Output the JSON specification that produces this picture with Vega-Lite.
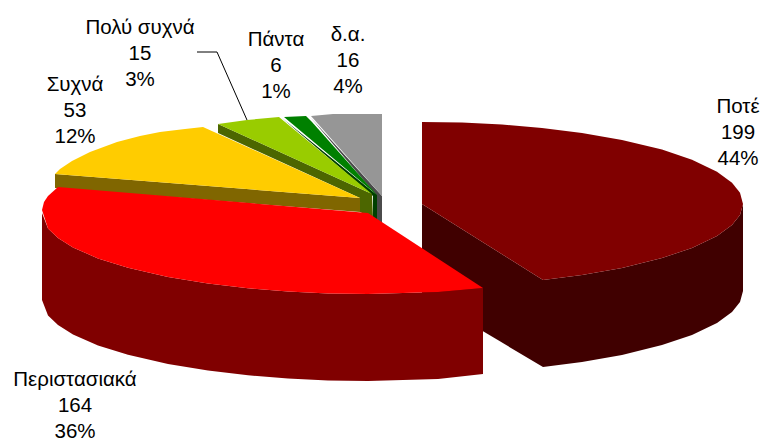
{"$schema":"https://vega.github.io/schema/vega-lite/v6.json","width":760,"height":439,"padding":0,"autosize":"none","background":"white","view":{"stroke":null},
"datasets":{"faces":[
{"part":"δ.α. wall","i":1,"x":311,"y":118},{"part":"δ.α. wall","i":2,"x":382,"y":196},{"part":"δ.α. wall","i":3,"x":382,"y":224},{"part":"δ.α. wall","i":4,"x":377,"y":222},{"part":"δ.α. wall","i":5,"x":377,"y":196},
{"part":"δ.α. top","i":1,"x":311,"y":116},{"part":"δ.α. top","i":2,"x":322,"y":115},{"part":"δ.α. top","i":3,"x":333,"y":114},{"part":"δ.α. top","i":4,"x":382,"y":114},{"part":"δ.α. top","i":5,"x":382,"y":196},
{"part":"Πάντα wall","i":1,"x":282,"y":118},{"part":"Πάντα wall","i":2,"x":373,"y":196},{"part":"Πάντα wall","i":3,"x":373,"y":218},{"part":"Πάντα wall","i":4,"x":377,"y":221},{"part":"Πάντα wall","i":5,"x":377,"y":195},
{"part":"Πάντα top","i":1,"x":284,"y":117},{"part":"Πάντα top","i":2,"x":306,"y":116},{"part":"Πάντα top","i":3,"x":312,"y":122},{"part":"Πάντα top","i":4,"x":377,"y":195},
{"part":"Πολύ συχνά wall","i":1,"x":218,"y":124},{"part":"Πολύ συχνά wall","i":2,"x":372,"y":194},{"part":"Πολύ συχνά wall","i":3,"x":373,"y":218},{"part":"Πολύ συχνά wall","i":4,"x":360,"y":212},{"part":"Πολύ συχνά wall","i":5,"x":360,"y":198},{"part":"Πολύ συχνά wall","i":6,"x":218,"y":133},
{"part":"Πολύ συχνά top","i":1,"x":218,"y":124},{"part":"Πολύ συχνά top","i":2,"x":247,"y":120},{"part":"Πολύ συχνά top","i":3,"x":279,"y":117},{"part":"Πολύ συχνά top","i":4,"x":372,"y":194},
{"part":"Συχνά wall","i":1,"x":55,"y":174},{"part":"Συχνά wall","i":2,"x":360,"y":198},{"part":"Συχνά wall","i":3,"x":360,"y":212},{"part":"Συχνά wall","i":4,"x":55,"y":188},
{"part":"Συχνά top","i":1,"x":55,"y":174},{"part":"Συχνά top","i":2,"x":60,"y":169},{"part":"Συχνά top","i":3,"x":72,"y":161},{"part":"Συχνά top","i":4,"x":90,"y":152},{"part":"Συχνά top","i":5,"x":117,"y":142},{"part":"Συχνά top","i":6,"x":140,"y":136},{"part":"Συχνά top","i":7,"x":160,"y":132},{"part":"Συχνά top","i":8,"x":185,"y":129},{"part":"Συχνά top","i":9,"x":203,"y":127},{"part":"Συχνά top","i":10,"x":360,"y":198},
{"part":"Ποτέ cut","i":1,"x":422,"y":204},{"part":"Ποτέ cut","i":2,"x":543,"y":280},{"part":"Ποτέ cut","i":3,"x":543,"y":367},{"part":"Ποτέ cut","i":4,"x":422,"y":295},
{"part":"Ποτέ side","i":1,"x":543,"y":280},{"part":"Ποτέ side","i":2,"x":582,"y":275},{"part":"Ποτέ side","i":3,"x":622,"y":268},{"part":"Ποτέ side","i":4,"x":662,"y":258},{"part":"Ποτέ side","i":5,"x":692,"y":248},{"part":"Ποτέ side","i":6,"x":717,"y":236},{"part":"Ποτέ side","i":7,"x":732,"y":225},{"part":"Ποτέ side","i":8,"x":740,"y":215},{"part":"Ποτέ side","i":9,"x":743,"y":204},{"part":"Ποτέ side","i":10,"x":743,"y":291},{"part":"Ποτέ side","i":11,"x":740,"y":302},{"part":"Ποτέ side","i":12,"x":732,"y":312},{"part":"Ποτέ side","i":13,"x":717,"y":323},{"part":"Ποτέ side","i":14,"x":692,"y":335},{"part":"Ποτέ side","i":15,"x":662,"y":345},{"part":"Ποτέ side","i":16,"x":622,"y":355},{"part":"Ποτέ side","i":17,"x":582,"y":362},{"part":"Ποτέ side","i":18,"x":543,"y":367},
{"part":"Ποτέ top","i":1,"x":422,"y":122},{"part":"Ποτέ top","i":2,"x":462,"y":122.6},{"part":"Ποτέ top","i":3,"x":502,"y":124.6},{"part":"Ποτέ top","i":4,"x":542,"y":127.9},{"part":"Ποτέ top","i":5,"x":582,"y":132.9},{"part":"Ποτέ top","i":6,"x":622,"y":139.9},{"part":"Ποτέ top","i":7,"x":662,"y":149.6},{"part":"Ποτέ top","i":8,"x":692,"y":159.7},{"part":"Ποτέ top","i":9,"x":717,"y":171.7},{"part":"Ποτέ top","i":10,"x":732,"y":182.7},{"part":"Ποτέ top","i":11,"x":740,"y":192.8},{"part":"Ποτέ top","i":12,"x":743,"y":204},{"part":"Ποτέ top","i":13,"x":740,"y":215},{"part":"Ποτέ top","i":14,"x":732,"y":225},{"part":"Ποτέ top","i":15,"x":717,"y":236},{"part":"Ποτέ top","i":16,"x":692,"y":248},{"part":"Ποτέ top","i":17,"x":662,"y":258},{"part":"Ποτέ top","i":18,"x":622,"y":268},{"part":"Ποτέ top","i":19,"x":582,"y":275},{"part":"Ποτέ top","i":20,"x":543,"y":280},{"part":"Ποτέ top","i":21,"x":422,"y":204},
{"part":"Περιστασιακά side","i":1,"x":483,"y":288},{"part":"Περιστασιακά side","i":2,"x":438,"y":292},{"part":"Περιστασιακά side","i":3,"x":368,"y":294},{"part":"Περιστασιακά side","i":4,"x":328,"y":293.4},{"part":"Περιστασιακά side","i":5,"x":288,"y":291.5},{"part":"Περιστασιακά side","i":6,"x":248,"y":288.3},{"part":"Περιστασιακά side","i":7,"x":208,"y":283.6},{"part":"Περιστασιακά side","i":8,"x":168,"y":277},{"part":"Περιστασιακά side","i":9,"x":128,"y":267.8},{"part":"Περιστασιακά side","i":10,"x":98,"y":258.4},{"part":"Περιστασιακά side","i":11,"x":73,"y":247.5},{"part":"Περιστασιακά side","i":12,"x":58,"y":238},{"part":"Περιστασιακά side","i":13,"x":48,"y":228.5},{"part":"Περιστασιακά side","i":14,"x":42,"y":213},{"part":"Περιστασιακά side","i":15,"x":42,"y":300},{"part":"Περιστασιακά side","i":16,"x":48,"y":315.5},{"part":"Περιστασιακά side","i":17,"x":58,"y":325},{"part":"Περιστασιακά side","i":18,"x":73,"y":334.5},{"part":"Περιστασιακά side","i":19,"x":98,"y":345.4},{"part":"Περιστασιακά side","i":20,"x":128,"y":354.8},{"part":"Περιστασιακά side","i":21,"x":168,"y":364},{"part":"Περιστασιακά side","i":22,"x":208,"y":370.6},{"part":"Περιστασιακά side","i":23,"x":248,"y":375.3},{"part":"Περιστασιακά side","i":24,"x":288,"y":378.5},{"part":"Περιστασιακά side","i":25,"x":328,"y":380.4},{"part":"Περιστασιακά side","i":26,"x":368,"y":381},{"part":"Περιστασιακά side","i":27,"x":438,"y":379},{"part":"Περιστασιακά side","i":28,"x":483,"y":374},
{"part":"Περιστασιακά top","i":1,"x":368,"y":213},{"part":"Περιστασιακά top","i":2,"x":483,"y":288},{"part":"Περιστασιακά top","i":3,"x":438,"y":292},{"part":"Περιστασιακά top","i":4,"x":368,"y":294},{"part":"Περιστασιακά top","i":5,"x":328,"y":293.4},{"part":"Περιστασιακά top","i":6,"x":288,"y":291.5},{"part":"Περιστασιακά top","i":7,"x":248,"y":288.3},{"part":"Περιστασιακά top","i":8,"x":208,"y":283.6},{"part":"Περιστασιακά top","i":9,"x":168,"y":277},{"part":"Περιστασιακά top","i":10,"x":128,"y":267.8},{"part":"Περιστασιακά top","i":11,"x":98,"y":258.4},{"part":"Περιστασιακά top","i":12,"x":73,"y":247.5},{"part":"Περιστασιακά top","i":13,"x":58,"y":238},{"part":"Περιστασιακά top","i":14,"x":48,"y":228.5},{"part":"Περιστασιακά top","i":15,"x":42,"y":210},{"part":"Περιστασιακά top","i":16,"x":44,"y":202},{"part":"Περιστασιακά top","i":17,"x":48,"y":196},{"part":"Περιστασιακά top","i":18,"x":58,"y":187}
],
"leader":[{"i":1,"x":197,"y":52},{"i":2,"x":217,"y":52},{"i":3,"x":247,"y":120}],
"labels":[
{"text":"Ποτέ\n199\n44%","x":738,"y":107},
{"text":"Περιστασιακά\n164\n36%","x":75,"y":380},
{"text":"Συχνά\n53\n12%","x":75,"y":85},
{"text":"Πολύ συχνά\n15\n3%","x":140,"y":28},
{"text":"Πάντα\n6\n1%","x":276,"y":40},
{"text":"δ.α.\n16\n4%","x":348,"y":35}
]},
"layer":[
{"data":{"name":"faces"},"mark":{"type":"line","filled":true,"interpolate":"linear-closed","strokeWidth":0},
"encoding":{"x":{"field":"x","type":"quantitative","scale":{"domain":[0,760]},"axis":null},"y":{"field":"y","type":"quantitative","scale":{"domain":[439,0]},"axis":null},"order":{"field":"i","type":"quantitative"},
"fill":{"field":"part","type":"nominal","legend":null,"scale":{"domain":["δ.α. wall","δ.α. top","Πάντα wall","Πάντα top","Πολύ συχνά wall","Πολύ συχνά top","Συχνά wall","Συχνά top","Ποτέ cut","Ποτέ side","Ποτέ top","Περιστασιακά side","Περιστασιακά top"],"range":["#4b4b4b","#969696","#004000","#008000","#4c6600","#99cc00","#806600","#ffcc00","#400000","#400000","#800000","#800000","#ff0000"]}}}},
{"data":{"name":"leader"},"mark":{"type":"line","color":"#000000","strokeWidth":1},"encoding":{"x":{"field":"x","type":"quantitative","scale":{"domain":[0,760]},"axis":null},"y":{"field":"y","type":"quantitative","scale":{"domain":[439,0]},"axis":null},"order":{"field":"i","type":"quantitative"}}},
{"data":{"name":"labels"},"mark":{"type":"text","font":"Liberation Sans","fontSize":20.5,"lineHeight":26,"lineBreak":"\n","align":"center","baseline":"middle","color":"#000000"},"encoding":{"x":{"field":"x","type":"quantitative","scale":{"domain":[0,760]},"axis":null},"y":{"field":"y","type":"quantitative","scale":{"domain":[439,0]},"axis":null},"text":{"field":"text"}}}
]}
